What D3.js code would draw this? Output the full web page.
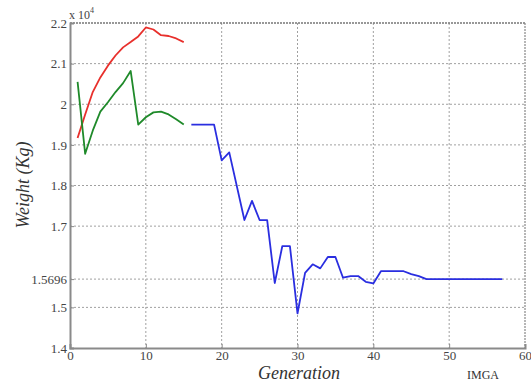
<!DOCTYPE html>
<html><head><meta charset="utf-8">
<script src="https://cdn.jsdelivr.net/npm/d3@7"></script>
<style>body{margin:0;background:#fff}svg{display:block}</style>
</head><body>
<svg id="c" width="531" height="383"></svg>
<script>
// data (weight in units of 10^4 kg)
const redGen   = [1,2,3,4,5,6,7,8,9,10,11,12,13,14,15];
const redVal   = [1.917,1.975,2.030,2.066,2.095,2.120,2.140,2.153,2.167,2.189,2.184,2.170,2.168,2.162,2.153];
const greenGen = [1,2,3,4,5,6,7,8,9,10,11,12,13,14,15];
const greenVal = [2.055,1.878,1.935,1.982,2.005,2.030,2.052,2.082,1.950,1.968,1.980,1.982,1.975,1.963,1.950];
const blueGen  = [16,19,20,21,23,24,25,26,27,28,29,30,31,32,33,34,35,36,37,38,39,40,41,44,45,46,47,57];
const blueVal  = [1.95,1.95,1.862,1.8815,1.715,1.762,1.715,1.715,1.56,1.651,1.651,1.485,1.585,1.606,1.596,1.624,1.624,1.573,1.577,1.577,1.563,1.559,1.589,1.589,1.582,1.577,1.5696,1.5696];
const xTicks = [0,10,20,30,40,50,60];
const yTicks = [1.4,1.5,1.5696,1.7,1.8,1.9,2,2.1,2.2];
const yTickLabels = ["1.4","1.5","1.5696","1.7","1.8","1.9","2","2.1","2.2"];

const svg = d3.select("#c");
const L=70,R=525,T=23,B=348;
const x = d3.scaleLinear().domain([0,60]).range([L,R]);
const y = d3.scaleLinear().domain([1.4,2.2]).range([B,T]);
const font = "'Liberation Serif','Times New Roman',serif";
const gridCol = "#a0a0a0";

// grid
svg.append("g").selectAll("line").data(xTicks.slice(1,-1)).join("line")
  .attr("x1",d=>x(d)).attr("x2",d=>x(d)).attr("y1",T).attr("y2",B)
  .attr("stroke",gridCol).attr("stroke-width",1).attr("stroke-dasharray","2,2");
svg.append("g").selectAll("line").data(yTicks.slice(1,-1)).join("line")
  .attr("x1",L).attr("x2",R).attr("y1",d=>y(d)).attr("y2",d=>y(d))
  .attr("stroke",gridCol).attr("stroke-width",1).attr("stroke-dasharray","2,2");
// top and right frame dotted
svg.append("line").attr("x1",L).attr("x2",R).attr("y1",T).attr("y2",T)
  .attr("stroke","#777").attr("stroke-width",1.5).attr("stroke-dasharray","2,1");
svg.append("line").attr("x1",R).attr("x2",R).attr("y1",T).attr("y2",B)
  .attr("stroke","#888").attr("stroke-width",1.2).attr("stroke-dasharray","2,1");

// axes
const xAxis = svg.append("g").attr("transform",`translate(0,${B})`)
  .call(d3.axisBottom(x).tickValues(xTicks).tickSize(-4).tickPadding(3).tickFormat(d3.format("d")));
const yAxis = svg.append("g").attr("transform",`translate(${L},0)`)
  .call(d3.axisLeft(y).tickValues(yTicks).tickSize(-4).tickPadding(3).tickFormat((d,i)=>yTickLabels[i]));
[xAxis,yAxis].forEach(a=>{
  a.select(".domain").attr("stroke","#8a8a8a").attr("stroke-width",2);
  a.selectAll(".tick line").attr("stroke","#8a8a8a");
  a.selectAll("text").attr("font-family",font).attr("font-size",13).attr("fill","#444");
});

// lines
const line = d3.line().x(d=>x(d[0])).y(d=>y(d[1]));
const series = [
  {g:redGen,v:redVal,c:"#e8302c"},
  {g:greenGen,v:greenVal,c:"#1f8a2a"},
  {g:blueGen,v:blueVal,c:"#2a2ee0"}
];
series.forEach(s=>{
  svg.append("path").datum(s.g.map((g,i)=>[g,s.v[i]]))
    .attr("d",line).attr("fill","none").attr("stroke",s.c).attr("stroke-width",1.8)
    .attr("stroke-linejoin","round");
});

// labels
svg.append("text").attr("x",L-1).attr("y",T-4).attr("font-family",font).attr("font-size",12).attr("fill","#444")
  .text("x 10").append("tspan").attr("dy",-6).attr("font-size",8).text("4");
svg.append("text").attr("transform","translate(29,185) rotate(-90)").attr("text-anchor","middle")
  .attr("font-family",font).attr("font-style","italic").attr("font-size",18).attr("fill","#333").text("Weight (Kg)");
svg.append("text").attr("x",299).attr("y",379).attr("text-anchor","middle")
  .attr("font-family",font).attr("font-style","italic").attr("font-size",18).attr("fill","#333").text("Generation");
svg.append("text").attr("x",483).attr("y",379).attr("text-anchor","middle")
  .attr("font-family",font).attr("font-size",12).attr("fill","#333").text("IMGA");
</script>
</body></html>
